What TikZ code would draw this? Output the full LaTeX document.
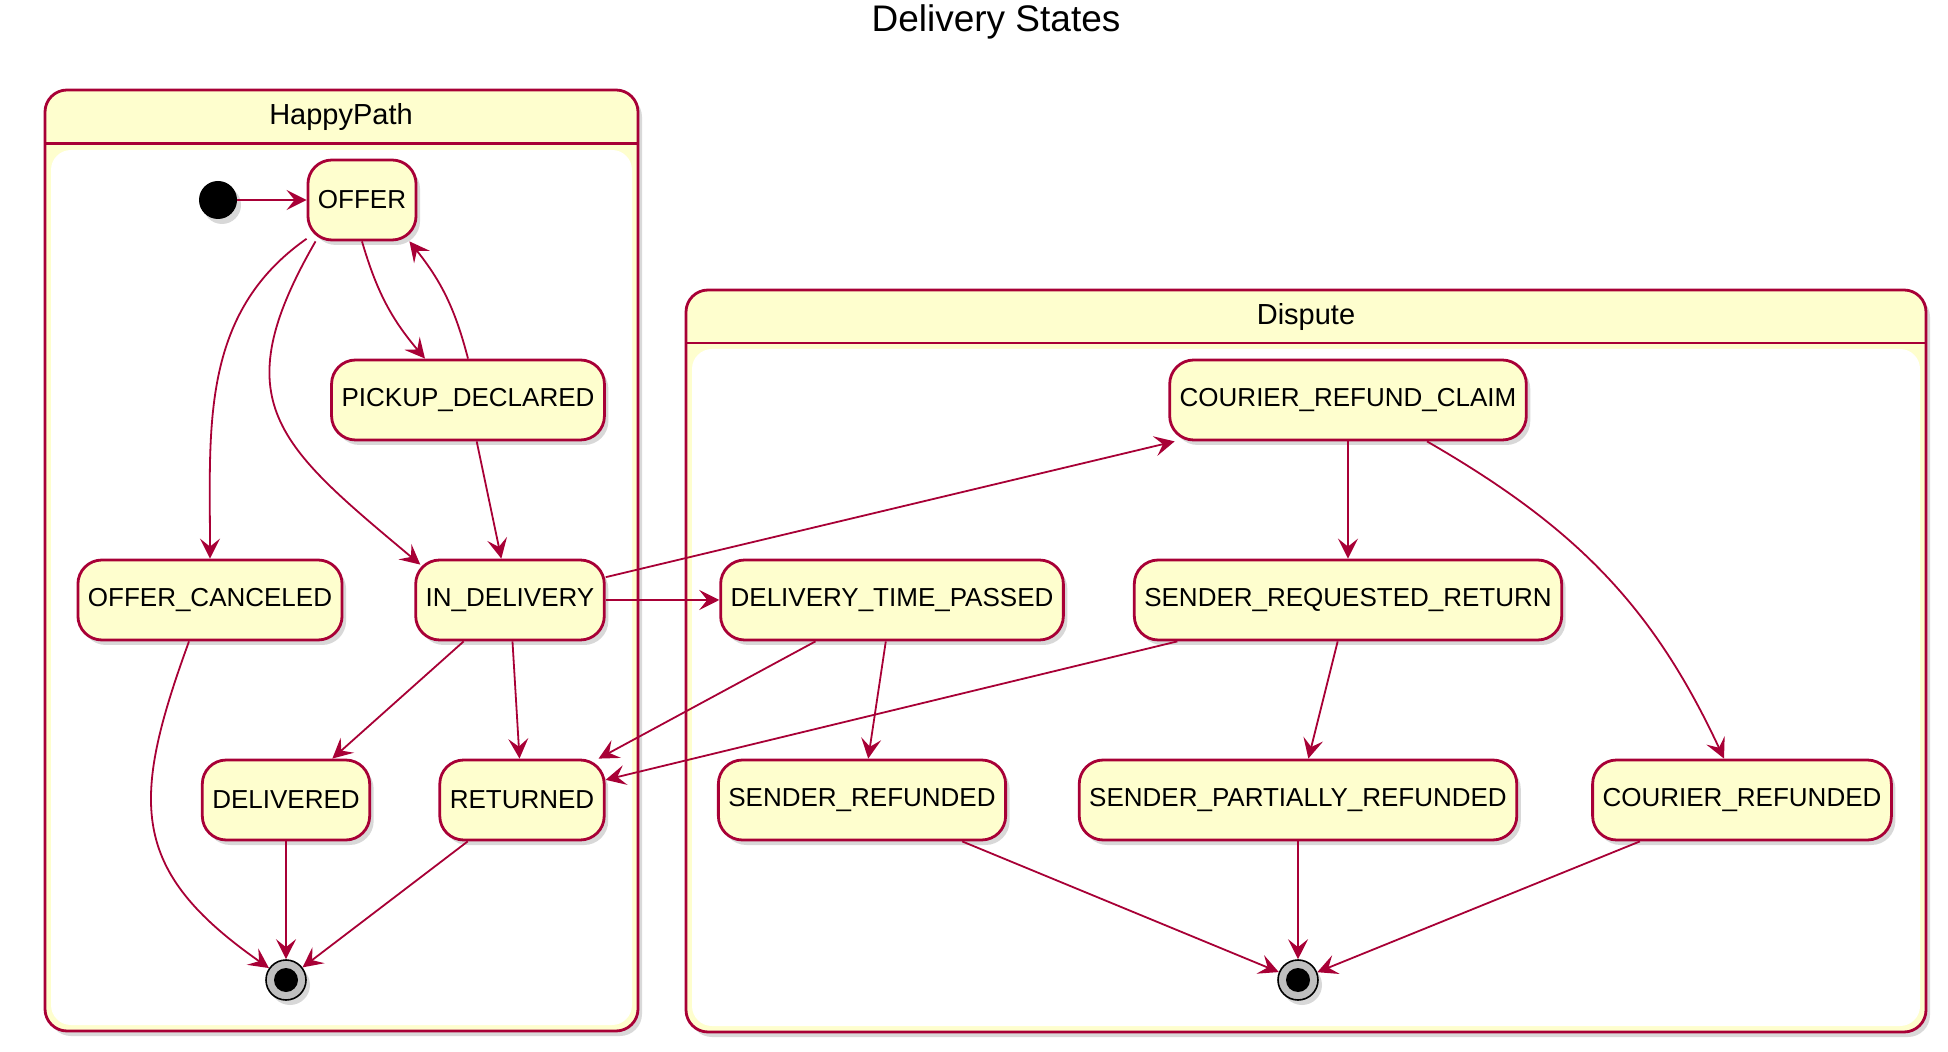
\documentclass[tikz,border=0pt]{standalone}
\usepackage{fontspec}
\setmainfont{Liberation Sans}
\usetikzlibrary{arrows.meta, shadows}
\definecolor{umlred}{HTML}{A80036}
\definecolor{umlyellow}{HTML}{FEFECE}

\begin{document}
\begin{tikzpicture}[x=0.5pt, y=0.5pt,
    state/.style={draw=umlred, fill=umlyellow, line width=1.4pt, rounded corners=12pt, minimum height=40pt, inner xsep=5pt, font=\fontsize{13}{15}\selectfont, drop shadow={shadow xshift=2pt, shadow yshift=-2.5pt, opacity=0.3}},
    final/.style={circle, draw=black, fill=gray!50, line width=0.8pt, minimum size=20pt, inner sep=0pt, path picture={\fill[black] (path picture bounding box.center) circle (6pt);}, drop shadow={shadow xshift=2pt, shadow yshift=-2.5pt, opacity=0.3}},
    group/.style={draw=umlred, fill=umlyellow, line width=1.4pt, rounded corners=11pt, drop shadow={shadow xshift=2pt, shadow yshift=-2.5pt, opacity=0.3}},
    trans/.style={umlred, line width=0.9pt, -{Stealth[length=10pt, width=10pt, inset=4pt]}}]
    \useasboundingbox (0,0) rectangle (1948,-1052);
    \node[font=\fontsize{18.5}{22}\selectfont] (title) at (996,-22) {Delivery States};

    \draw[group] (45,-90) rectangle (638,-1031);
    \fill[white, rounded corners=10pt] (51,-150) rectangle (632,-1025);
    \draw[umlred, line width=1.4pt] (45,-143.5) -- (638,-143.5);
    \node[font=\fontsize{14.5}{17}\selectfont] (happypath) at (341,-117) {HappyPath};

    \draw[group] (686,-290) rectangle (1926,-1032);
    \fill[white, rounded corners=10pt] (692,-349) rectangle (1920,-1026);
    \draw[umlred, line width=1.4pt] (686,-343) -- (1926,-343);
    \node[font=\fontsize{14.5}{17}\selectfont] (dispute) at (1306,-317) {Dispute};

    \node[circle, fill=black, minimum size=19pt, inner sep=0pt, drop shadow={shadow xshift=2pt, shadow yshift=-2.5pt, opacity=0.3}] (start) at (218,-200) {};
    \node[state] (offer) at (362,-200) {OFFER};
    \node[state] (pickup) at (468,-400) {PICKUP\_DECLARED};
    \node[state] (canceled) at (210,-600) {OFFER\_CANCELED};
    \node[state] (indelivery) at (510,-600) {IN\_DELIVERY};
    \node[state] (delivered) at (286,-800) {DELIVERED};
    \node[state] (returned) at (522,-800) {RETURNED};
    \node[final] (happyend) at (286,-980) {};

    \node[state] (refundclaim) at (1348,-400) {COURIER\_REFUND\_CLAIM};
    \node[state] (timepassed) at (892,-600) {DELIVERY\_TIME\_PASSED};
    \node[state] (requestedreturn) at (1348,-600) {SENDER\_REQUESTED\_RETURN};
    \node[state] (senderrefunded) at (862,-800) {SENDER\_REFUNDED};
    \node[state] (partially) at (1298,-800) {SENDER\_PARTIALLY\_REFUNDED};
    \node[state] (courierrefunded) at (1742,-800) {COURIER\_REFUNDED};
    \node[final] (disputeend) at (1298,-980) {};

    \draw[trans] (start) -- (offer);
    \draw[trans] (offer) to[out=215, in=90] (canceled);
    \draw[trans] ([xshift=4.5pt]offer.south west) to[out=240, in=140, looseness=1.4] ([shift={(3pt,-3pt)}]indelivery.north west);
    \draw[trans] (offer.south) to[bend right=12] ([xshift=-21.5pt]pickup.north);
    \draw[trans] (pickup.north) to[bend right=12] ([xshift=-4pt]offer.south east);
    \draw[trans] (pickup) -- (indelivery);
    \draw[trans] ([xshift=-10.5pt]canceled.south) to[out=250, in=145, looseness=1.3] (happyend);
    \draw[trans] (indelivery) -- (delivered);
    \draw[trans] (indelivery) -- (returned);
    \draw[trans] (indelivery) -- (timepassed);
    \draw[trans] (indelivery) -- (refundclaim);
    \draw[trans] (delivered) -- (happyend);
    \draw[trans] (returned) -- (happyend);
    \draw[trans] (timepassed) -- (returned);
    \draw[trans] (timepassed) -- (senderrefunded);
    \draw[trans] (requestedreturn) -- (returned);
    \draw[trans] (requestedreturn) -- (partially);
    \draw[trans] (refundclaim) -- (requestedreturn);
    \draw[trans] ([xshift=39.5pt]refundclaim.south) to[out=-30, in=115] ([xshift=-9pt]courierrefunded.north);
    \draw[trans] (senderrefunded) -- (disputeend);
    \draw[trans] (partially) -- (disputeend);
    \draw[trans] (courierrefunded) -- (disputeend);
\end{tikzpicture}
\end{document}
